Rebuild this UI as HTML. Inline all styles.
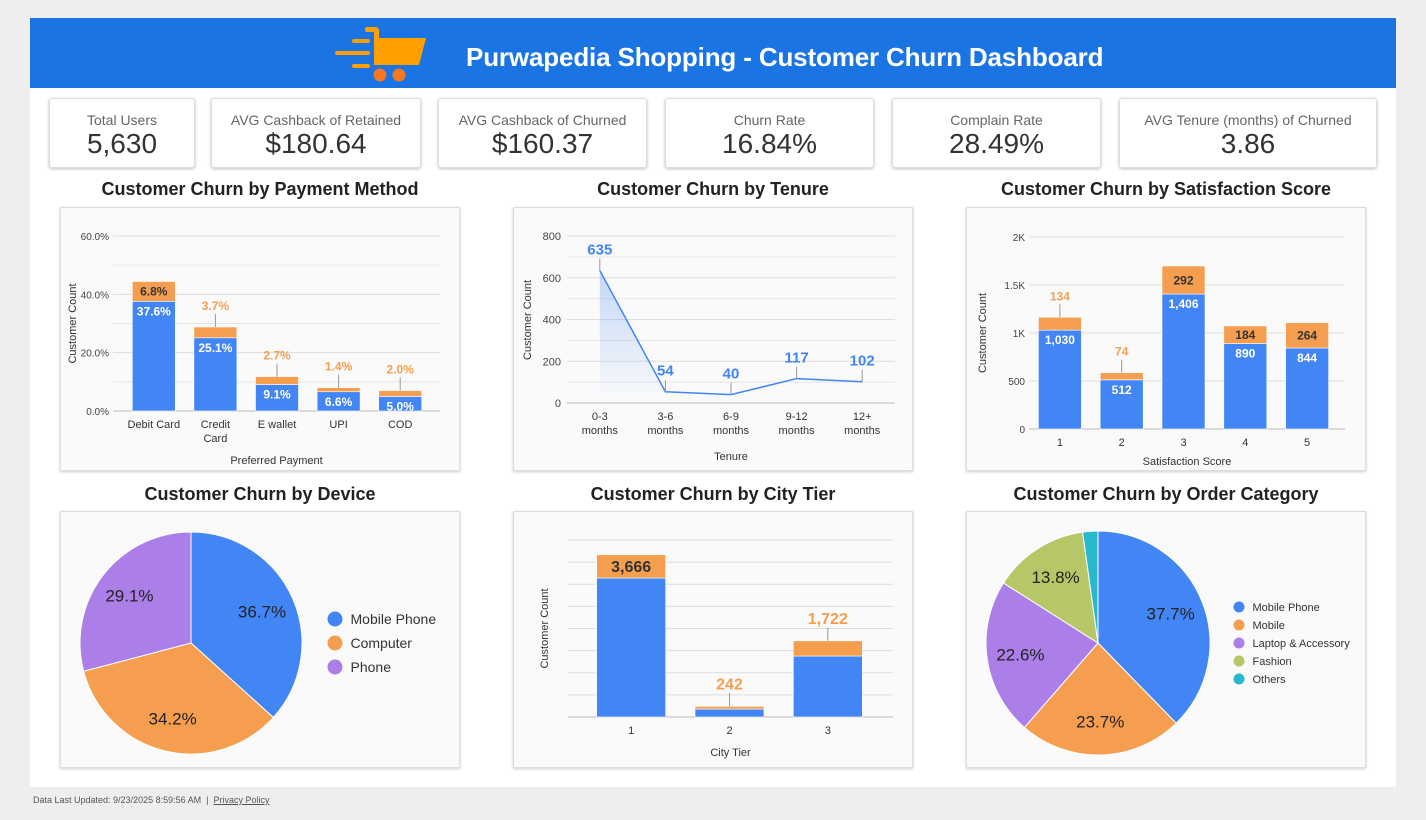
<!DOCTYPE html>
<html><head><meta charset="utf-8">
<style>
body{margin:0;width:1426px;height:820px;background:#eeeeee;font-family:"Liberation Sans",sans-serif;position:relative;overflow:hidden}
.panel{position:absolute;left:30px;top:18px;width:1366px;height:769px;background:#fff}
.header{position:absolute;left:30px;top:18px;width:1366px;height:70px;background:#1b74e4}
.title{position:absolute;left:466px;top:42px;color:#fff;font-weight:bold;font-size:26px;letter-spacing:-0.15px}
.kpi{position:absolute;top:98px;height:70px;background:#fff;border:1px solid #ddd;border-radius:3px;box-shadow:0 1px 3px rgba(0,0,0,.25);text-align:center;box-sizing:border-box}
.kpi .l{color:#666;font-size:14px;margin-top:13px}
.kpi .v{color:#333;font-size:28px;margin-top:0px}
.ct{position:absolute;width:400px;text-align:center;font-weight:bold;font-size:18px;color:#222}
.card{position:absolute;width:400px;background:#fafafa;border:1px solid #ddd;box-shadow:0 1px 3px rgba(0,0,0,.2);box-sizing:border-box}
svg text{font-family:"Liberation Sans",sans-serif}
.foot{position:absolute;left:33px;top:795px;font-size:9px;color:#555}
</style></head><body>
<div class="panel"></div>
<div class="header"></div>
<svg style="position:absolute;left:0;top:0" width="1426" height="100">
<g fill="#ffa000"><rect x="365" y="27" width="13" height="5" rx="2"/><rect x="374" y="29" width="5" height="36"/>
<polygon points="374,38 426,38 419,65 374,65"/>
<rect x="352" y="39" width="18" height="4" rx="2"/><rect x="335" y="51" width="35" height="4" rx="2"/><rect x="352" y="64" width="18" height="4" rx="2"/></g>
<circle cx="380" cy="75" r="6.5" fill="#f57722"/><circle cx="399" cy="75" r="6.5" fill="#f57722"/>
</svg>
<div class="title">Purwapedia Shopping - Customer Churn Dashboard</div>

<div class="kpi" style="left:49px;width:146px"><div class="l">Total Users</div><div class="v">5,630</div></div>
<div class="kpi" style="left:211px;width:210px"><div class="l">AVG Cashback of Retained</div><div class="v">$180.64</div></div>
<div class="kpi" style="left:438px;width:209px"><div class="l">AVG Cashback of Churned</div><div class="v">$160.37</div></div>
<div class="kpi" style="left:665px;width:209px"><div class="l">Churn Rate</div><div class="v">16.84%</div></div>
<div class="kpi" style="left:892px;width:209px"><div class="l">Complain Rate</div><div class="v">28.49%</div></div>
<div class="kpi" style="left:1119px;width:258px"><div class="l">AVG Tenure (months) of Churned</div><div class="v">3.86</div></div>

<div class="ct" style="left:60px;top:179px">Customer Churn by Payment Method</div>
<div class="ct" style="left:513px;top:179px">Customer Churn by Tenure</div>
<div class="ct" style="left:966px;top:179px">Customer Churn by Satisfaction Score</div>
<div class="ct" style="left:60px;top:484px">Customer Churn by Device</div>
<div class="ct" style="left:513px;top:484px">Customer Churn by City Tier</div>
<div class="ct" style="left:966px;top:484px">Customer Churn by Order Category</div>

<div class="card" style="left:60px;top:207px;height:264px"></div>
<div class="card" style="left:513px;top:207px;height:264px"></div>
<div class="card" style="left:966px;top:207px;height:264px"></div>
<div class="card" style="left:60px;top:511px;height:257px"></div>
<div class="card" style="left:513px;top:511px;height:257px"></div>
<div class="card" style="left:966px;top:511px;height:257px"></div>

<svg id="c" style="position:absolute;left:0;top:0" width="1426" height="820"></svg>
<div class="foot">Data Last Updated: 9/23/2025 8:59:56 AM &nbsp;|&nbsp; <span style="text-decoration:underline">Privacy Policy</span></div>

<script>
const payCats=["Debit Card","Credit Card","E wallet","UPI","COD"];
const payRetained=[37.6,25.1,9.1,6.6,5.0];
const payChurned=[6.8,3.7,2.7,1.4,2.0];
const payTicks=[0,20,40,60];
const tenCats=["0-3 months","3-6 months","6-9 months","9-12 months","12+ months"];
const tenVals=[635,54,40,117,102];
const tenTicks=[0,200,400,600,800];
const satCats=["1","2","3","4","5"];
const satRetained=[1030,512,1406,890,844];
const satChurned=[134,74,292,184,264];
const satTicks=[0,500,1000,1500,2000];
const satTickLabels=["0","500","1K","1.5K","2K"];
const cityCats=["1","2","3"];
const cityRetained=[3141,180,1378];
const cityChurned=[525,62,344];
const cityTicks=[0,500,1000,1500,2000,2500,3000,3500,4000];
const devLabels=["Mobile Phone","Computer","Phone"];
const devVals=[36.7,34.2,29.1];
const ordLabels=["Mobile Phone","Mobile","Laptop & Accessory","Fashion","Others"];
const ordVals=[37.7,23.7,22.6,13.8,2.2];

const BLUE="#4285f4",ORANGE="#f59e4f",PURPLE="#ab7ee8",GREEN="#b6c767",TEAL="#27b8cb";
const svg=document.getElementById('c');const NS="http://www.w3.org/2000/svg";
function el(t,a,txt){const e=document.createElementNS(NS,t);for(const k in a)e.setAttribute(k,a[k]);if(txt!==undefined)e.textContent=txt;svg.appendChild(e);return e;}

function stacked(o){
  const y=v=>o.y0-(v/o.max)*(o.y0-o.y1);
  o.ticks.forEach((t,i)=>{const g=el('line',{x1:o.xl,x2:o.xr,y1:y(t),y2:y(t),stroke:i==0?'#bbb':'#ddd'});
    if(o.tl){const tx=el('text',{x:o.xl-4,y:y(t)+4,'text-anchor':'end','font-size':10,fill:'#444'},o.tl[i]);}});
  if(o.minor){for(let i=0;i<o.ticks.length-1;i++){const m=(o.ticks[i]+o.ticks[i+1])/2;el('line',{x1:o.xl,x2:o.xr,y1:y(m),y2:y(m),stroke:'#e6e6e6'});}}
  const n=o.cats.length,step=(o.bxr-o.bxl)/n;
  o.cats.forEach((c,i)=>{
    const cx=o.bxl+step*(i+0.5),w=o.bw;
    const r=o.ret[i],ch=o.ch[i];
    const b=el('rect',{x:cx-w/2,y:y(r),width:w,height:y(0)-y(r),fill:BLUE,stroke:'#fff','stroke-width':0.6});
    
    const b2=el('rect',{x:cx-w/2,y:y(r+ch),width:w,height:y(r)-y(r+ch),fill:ORANGE,stroke:'#fff','stroke-width':0.6});
    
    if(o.showRet){const t=el('text',{x:cx,y:y(r)+14,'text-anchor':'middle','font-size':12,'font-weight':'bold',fill:'#fff'},o.fmt(r));}
    const lbl=o.fmt(o.total?r+ch:ch);
    const h=y(r)-y(r+ch);
    if(h>=o.fs+4){const t=el('text',{x:cx,y:y(r+ch)+h/2+o.fs*0.36,'text-anchor':'middle','font-size':o.fs,'font-weight':'bold',fill:'#333'},lbl);}
    else{const top=y(r+ch);el('line',{x1:cx,x2:cx,y1:top,y2:top-13,stroke:'#999'});
      const t=el('text',{x:cx,y:top-17,'text-anchor':'middle','font-size':o.fs,'font-weight':'bold',fill:ORANGE},lbl);}
    o.cats[i].split('\n').forEach((ln,k)=>{const t=el('text',{x:cx,y:o.y0+17+k*14,'text-anchor':'middle','font-size':11,fill:'#333'},ln);});
  });
  const xt=el('text',{x:(o.xl+o.xr)/2,y:o.xty,'text-anchor':'middle','font-size':11,fill:'#333'},o.xtitle);
  const yt=el('text',{x:o.ytx,y:(o.y0+o.y1)/2,'text-anchor':'middle','font-size':11,fill:'#333',transform:`rotate(-90 ${o.ytx} ${(o.y0+o.y1)/2})`},'Customer Count');
}
stacked({cats:["Debit Card","Credit\nCard","E wallet","UPI","COD"],ret:payRetained,ch:payChurned,ticks:payTicks,tl:payTicks.map(t=>t.toFixed(1)+'%'),max:60,minor:true,
  xl:113,xr:440,bxl:123,bxr:431,y0:411,y1:236,bw:43,showRet:true,fmt:v=>v.toFixed(1)+'%',fs:12,xtitle:'Preferred Payment',xty:464,ytx:76});
stacked({cats:satCats,ret:satRetained,ch:satChurned,ticks:satTicks,tl:satTickLabels,max:2000,
  xl:1029,xr:1345,bxl:1029,bxr:1338,y0:429,y1:237,bw:43,showRet:true,fmt:v=>v.toLocaleString('en-US'),fs:12,xtitle:'Satisfaction Score',xty:465,ytx:986});
stacked({cats:cityCats,ret:cityRetained,ch:cityChurned,ticks:cityTicks,tl:null,max:4000,
  xl:568,xr:893,bxl:582,bxr:877,y0:717,y1:540,bw:69,showRet:false,total:true,fmt:v=>v.toLocaleString('en-US'),fs:16,xtitle:'City Tier',xty:756,ytx:548});

// tenure line
(function(){
  const xl=567,xr=895,y0=403,y1=236,max=800;
  const y=v=>y0-(v/max)*(y0-y1);
  const step=(xr-xl)/tenCats.length;const x=i=>xl+step*(i+0.5);
  tenTicks.forEach((t,i)=>{el('line',{x1:xl,x2:xr,y1:y(t),y2:y(t),stroke:i==0?'#bbb':'#ddd'});
    const tx=el('text',{x:xl-6,y:y(t)+4,'text-anchor':'end','font-size':11,fill:'#444'},t);
    if(i<tenTicks.length-1)el('line',{x1:xl,x2:xr,y1:y(t+100),y2:y(t+100),stroke:'#e6e6e6'});});
  const defs=el('defs',{});defs.innerHTML='<linearGradient id="g" x1="0" y1="0" x2="0" y2="1"><stop offset="0" stop-color="#4285f4" stop-opacity="0.3"/><stop offset="1" stop-color="#4285f4" stop-opacity="0.02"/></linearGradient>';
  el('polygon',{points:`${x(0)},${y(tenVals[0])} ${x(1)},${y(tenVals[1])} ${x(1)},${y0-10} ${x(0)},${y0-10}`,fill:'url(#g)'});
  const pts=tenVals.map((v,i)=>x(i)+','+y(v)).join(' ');
  const pl=el('polyline',{points:pts,fill:'none',stroke:BLUE,'stroke-width':1.5});
  tenVals.forEach((v,i)=>{el('line',{x1:x(i),x2:x(i),y1:y(v),y2:y(v)-12,stroke:'#999'});
    const t=el('text',{x:x(i),y:y(v)-16,'text-anchor':'middle','font-size':15,'font-weight':'bold',fill:BLUE},v);
    tenCats[i].split(' ').forEach((ln,k)=>{const tt=el('text',{x:x(i),y:y0+17+k*14,'text-anchor':'middle','font-size':11,fill:'#333'},ln);});});
  const xt=el('text',{x:731,y:460,'text-anchor':'middle','font-size':11,fill:'#333'},'Tenure');
  const yt=el('text',{x:531,y:320,'text-anchor':'middle','font-size':11,fill:'#333',transform:'rotate(-90 531 320)'},'Customer Count');
})();

function pie(o){
  const tot=o.vals.reduce((a,b)=>a+b,0);let a=-Math.PI/2;
  o.vals.forEach((v,i)=>{const sw=v/tot*2*Math.PI,a2=a+sw;
    const p=el('path',{d:`M${o.cx},${o.cy} L${o.cx+o.r*Math.cos(a)},${o.cy+o.r*Math.sin(a)} A${o.r},${o.r} 0 ${sw>Math.PI?1:0} 1 ${o.cx+o.r*Math.cos(a2)},${o.cy+o.r*Math.sin(a2)} Z`,fill:o.cols[i],stroke:'#fff','stroke-width':1});
    
    if(v>5){const m=a+sw/2;const t=el('text',{x:o.cx+o.r*0.7*Math.cos(m),y:o.cy+o.r*0.7*Math.sin(m)+6,'text-anchor':'middle','font-size':17,fill:'#222'},v.toFixed(1)+'%');}
    const ly=o.ly+i*o.lg;
    const c=el('circle',{cx:o.lx,cy:ly,r:o.lr,fill:o.cols[i]});
    const t=el('text',{x:o.lx+o.lr+8,y:ly+o.lf*0.36,'font-size':o.lf,fill:'#333'},o.labels[i]);
    a=a2;});
}
pie({cx:191,cy:643,r:111,vals:devVals,labels:devLabels,cols:[BLUE,ORANGE,PURPLE],lx:335,ly:619,lg:24,lr:7.5,lf:14});
pie({cx:1098,cy:643,r:112,vals:ordVals,labels:ordLabels,cols:[BLUE,ORANGE,PURPLE,GREEN,TEAL],lx:1239,ly:607,lg:18,lr:5.5,lf:11});
</script>
</body></html>
